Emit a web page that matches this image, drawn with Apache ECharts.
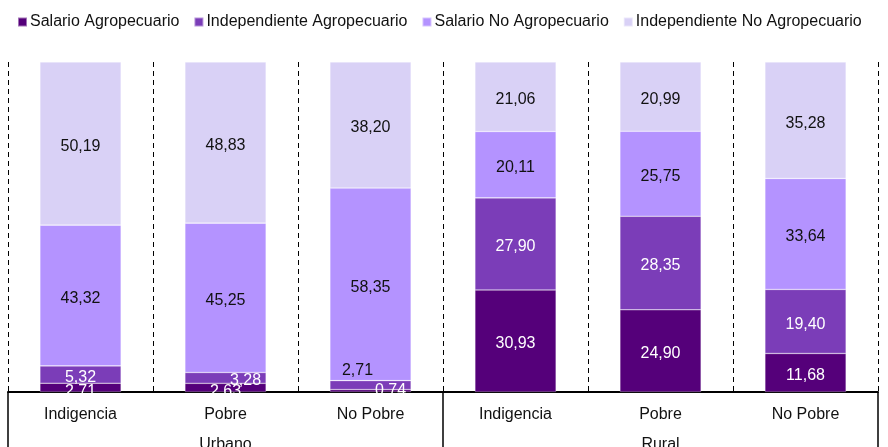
<!DOCTYPE html>
<html lang="es">
<head>
    <meta charset="UTF-8">
    <title>Ocupación por tipo</title>
    <script src="https://cdn.jsdelivr.net/npm/echarts@6/dist/echarts.min.js"></script>
    <style>
        html, body { margin: 0; padding: 0; background: #fff; }
        #chart { width: 888px; height: 447px; }
    </style>
</head>
<body>
<div id="chart"></div>

<script type="text/javascript">

    // categorias y grupos
    var categories = ['Indigencia', 'Pobre', 'No Pobre', 'Indigencia', 'Pobre', 'No Pobre'];
    var groups = ['Urbano', 'Rural'];

    // valores (%) por serie
    var salarioAgro = [2.71, 2.63, 0.74, 30.93, 24.90, 11.68];
    var independienteAgro = [5.32, 3.28, 2.71, 27.90, 28.35, 19.40];
    var salarioNoAgro = [43.32, 45.25, 58.35, 20.11, 25.75, 33.64];
    var independienteNoAgro = [50.19, 48.83, 38.20, 21.06, 20.99, 35.28];

    var seriesNames = ['Salario Agropecuario', 'Independiente Agropecuario', 'Salario No Agropecuario', 'Independiente No Agropecuario'];
    var seriesValues = [salarioAgro, independienteAgro, salarioNoAgro, independienteNoAgro];
    var colors = ['#55007a', '#7b3db8', '#b493ff', '#d9d1f6'];
    var labelColors = ['#fff', '#fff', '#111', '#111'];

    // ajustes de etiquetas pequeñas (serie-categoria) -> offset / color
    var labelTweaks = {
        '0-0': {offset: [0, 4]},
        '0-1': {offset: [0, 4]},
        '1-1': {offset: [20, 3]},
        '0-2': {offset: [20, 0]},
        '1-2': {offset: [-13, -14], color: '#111'}
    };

    var totals = categories.map(function (c, i) {
        var s = 0;
        seriesValues.forEach(function (arr) { s += arr[i]; });
        return s;
    });

    function fmt(v) {
        return v.toFixed(2).replace('.', ',');
    }

    var series = seriesValues.map(function (arr, s) {
        return {
            name: seriesNames[s],
            type: 'bar',
            stack: 'total',
            barWidth: '56%',
            xAxisIndex: 0,
            itemStyle: {color: colors[s], borderColor: 'rgba(255,255,255,0.45)', borderWidth: 0.6},
            label: {
                show: true,
                position: 'inside',
                offset: [0, 3],
                color: labelColors[s],
                fontSize: 16,
                fontFamily: 'Liberation Sans, Arial, sans-serif'
            },
            data: arr.map(function (v, i) {
                var item = {
                    value: v / totals[i] * 100,
                    label: {formatter: fmt(v)}
                };
                var t = labelTweaks[s + '-' + i];
                if (t) {
                    item.label.offset = t.offset;
                    if (t.color) item.label.color = t.color;
                }
                return item;
            })
        };
    });

    var chart = echarts.init(document.getElementById('chart'));

    chart.setOption({
        animation: false,
        textStyle: {fontFamily: 'Liberation Sans, Arial, sans-serif'},
        legend: {
            data: seriesNames,
            left: 12,
            top: 9,
            itemWidth: 9,
            itemHeight: 9,
            itemGap: 14,
            icon: 'rect',
            textStyle: {fontSize: 16, color: '#111', padding: [0, 0, 0, -2]}
        },
        grid: {left: 8, right: 10, top: 62, bottom: 55, containLabel: false, outerBoundsMode: 'none'},
        xAxis: [
            {
                type: 'category',
                data: categories,
                position: 'bottom',
                axisLine: {show: false},
                axisTick: {show: false},
                axisLabel: {margin: 15, fontSize: 16, color: '#111', interval: 0},
                splitLine: {show: true, lineStyle: {type: [5, 4], color: '#000', width: 1}}
            },
            {
                type: 'category',
                data: groups,
                position: 'bottom',
                axisLine: {show: true, lineStyle: {color: '#000', width: 2}},
                axisTick: {show: true, length: 56, interval: 0, lineStyle: {color: '#000', width: 1.5}},
                axisLabel: {margin: 45, fontSize: 16, color: '#111', interval: 0},
                splitLine: {show: false}
            }
        ],
        yAxis: {
            type: 'value',
            min: 0,
            max: 100,
            show: false
        },
        series: series
    });

</script>
</body>
</html>
